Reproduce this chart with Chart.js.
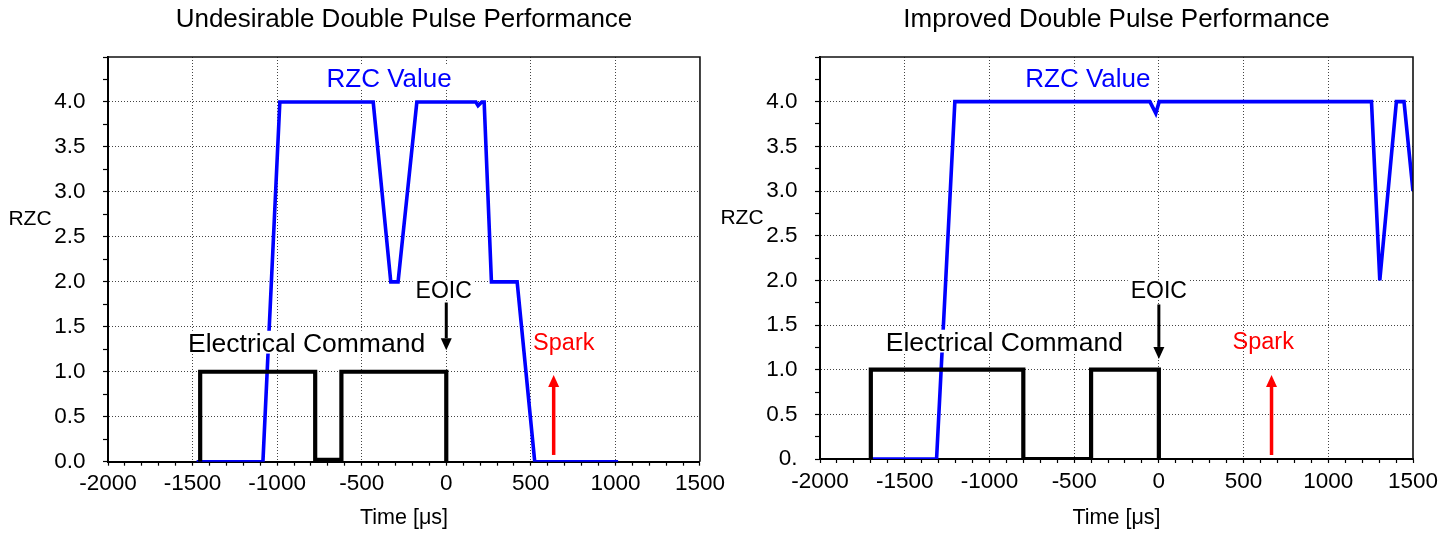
<!DOCTYPE html>
<html><head><meta charset="utf-8">
<script src="https://cdn.jsdelivr.net/npm/chart.js@4/dist/chart.umd.min.js"></script>
<style>
html,body{margin:0;padding:0;background:#fff;width:1450px;height:536px;overflow:hidden}
.wrap{position:absolute;top:0;height:536px}
#w1{left:0;width:730px}
#w2{left:700px;width:750px}
</style></head><body>
<div class="wrap" id="w1"><canvas id="c1"></canvas></div>
<div class="wrap" id="w2"><canvas id="c2"></canvas></div>
<script>
// ---------- data ----------
const xTickValues = [-2000, -1500, -1000, -500, 0, 500, 1000, 1500];
const xTickLabels = ['-2000', '-1500', '-1000', '-500', '0', '500', '1000', '1500'];
const yTickValues = [0, 0.5, 1, 1.5, 2, 2.5, 3, 3.5, 4];
const yTickLabelsLeft  = ['0.0', '0.5', '1.0', '1.5', '2.0', '2.5', '3.0', '3.5', '4.0'];
const yTickLabelsRight = ['0.',  '0.5', '1.0', '1.5', '2.0', '2.5', '3.0', '3.5', '4.0'];

const leftRzcTime  = [-1476, -1084, -984, -432, -328, -285, -174, 175, 188, 210, 224, 267, 419, 523, 1016];
const leftRzcValue = [0, 0, 4, 4, 2, 2, 4, 4, 3.96, 4, 4, 2, 2, 0, 0];
const leftCmdTime  = [-1455, -1455, -775, -775, -620, -620, 0, 0];
const leftCmdValue = [0, 1, 1, 0.02, 0.02, 1, 1, 0];

const rightRzcTime  = [-1695, -1312, -1204, -53, -18, 2, 1255, 1304, 1402, 1447, 1500];
const rightRzcValue = [0, 0, 4, 4, 3.87, 4, 4, 2, 4, 4, 3];
const rightCmdTime  = [-1700, -1700, -800, -800, -400, -400, 0, 0];
const rightCmdValue = [0, 1, 1, 0, 0, 1, 1, 0];

const titles = ['Undesirable Double Pulse Performance', 'Improved Double Pulse Performance'];
const noteText = ['RZC Value', 'Electrical Command', 'EOIC', 'Spark'];
const leftNoteX  = [-338, -826, -15, 695];
const leftNoteY  = [4.17, 1.22, 1.82, 1.24];
const rightNoteX = [-419, -912, 0, 616];
const rightNoteY = [4.16, 1.21, 1.80, 1.23];
const leftArrowX = [0, 635],  leftArrowFrom = [1.77, 0.075],  leftArrowTo = [1.24, 0.965];
const rightArrowX = [0, 665], rightArrowFrom = [1.73, 0.045], rightArrowTo = [1.12, 0.94];

// ---------- styles ----------
const FONT = '"Liberation Sans", Arial, Helvetica, sans-serif';
const noteColors = ['#0000ff', '#000000', '#000000', '#ff0000'];
const noteSizes = [26, 26.5, 23, 23.5];
const noteBox = [4, 12, 3, 0];
const arrowColors = ['#000000', '#ff0000'];
const arrowWidths = [3, 3.5];

const pts = (xs, ys) => xs.map((t, i) => ({x: t, y: ys[i]}));

const overlay = {
  id: 'overlay',
  afterDatasetsDraw(chart, args, o) {
    const {ctx, chartArea: a} = chart;
    const xs = chart.scales.x, ys = chart.scales.y;
    ctx.save();
    // frame (top/right)
    ctx.strokeStyle = '#111'; ctx.lineWidth = 1.6;
    ctx.beginPath(); ctx.moveTo(a.left, a.top); ctx.lineTo(a.right, a.top); ctx.lineTo(a.right, a.bottom); ctx.stroke();
    // notes
    o.noteX.forEach((nx, i) => {
      const size = noteSizes[i];
      ctx.font = size + 'px ' + FONT;
      const px = xs.getPixelForValue(nx), py = ys.getPixelForValue(o.noteY[i]);
      const w = ctx.measureText(noteText[i]).width;
      if (noteBox[i]) {
        ctx.fillStyle = '#fff';
        ctx.fillRect(px - w / 2 - noteBox[i], py - size * 0.8, w + 2 * noteBox[i], size * 0.86);
      }
      ctx.fillStyle = noteColors[i]; ctx.textAlign = 'center'; ctx.textBaseline = 'alphabetic';
      ctx.fillText(noteText[i], px, py);
    });
    // arrows
    o.arrowX.forEach((ax, i) => {
      const px = xs.getPixelForValue(ax), p0 = ys.getPixelForValue(o.arrowFrom[i]), p1 = ys.getPixelForValue(o.arrowTo[i]);
      const dir = Math.sign(p1 - p0), head = 12, hw = 5.5;
      ctx.strokeStyle = arrowColors[i]; ctx.fillStyle = arrowColors[i]; ctx.lineWidth = arrowWidths[i];
      ctx.beginPath(); ctx.moveTo(px, p0); ctx.lineTo(px, p1 - dir * head); ctx.stroke();
      ctx.beginPath(); ctx.moveTo(px, p1); ctx.lineTo(px - hw, p1 - dir * head); ctx.lineTo(px + hw, p1 - dir * head); ctx.closePath(); ctx.fill();
    });
    // horizontal y-axis title
    ctx.font = '21px ' + FONT; ctx.fillStyle = '#000'; ctx.textAlign = 'center'; ctx.textBaseline = 'middle';
    ctx.fillText('RZC', a.left - 78, ys.getPixelForValue(2.7));
    ctx.restore();
  }
};

function makeChart(id, title, cmdT, cmdV, rzcT, rzcV, yLabels, padRight, yWidth, xHeight, notes) {
  const isMajorX = v => xTickValues.includes(Math.round(v));
  return new Chart(document.getElementById(id), {
    type: 'scatter',
    data: {
      datasets: [
        {label: 'Electrical Command', data: pts(cmdT, cmdV), showLine: true, borderColor: '#000', borderWidth: 4.2, pointRadius: 0, fill: false, tension: 0},
        {label: 'RZC Value', data: pts(rzcT, rzcV), showLine: true, borderColor: '#0000ff', borderWidth: 3.6, pointRadius: 0, fill: false, tension: 0}
      ]
    },
    options: {
      responsive: true, maintainAspectRatio: false, animation: false,
      layout: {padding: {left: 0, right: padRight, top: 0, bottom: 0}},
      plugins: {
        legend: {display: false}, tooltip: {enabled: false},
        title: {display: true, text: title, fullSize: false, color: '#000',
                font: {family: FONT, size: 26, weight: 'normal'}, padding: {top: 4.4, bottom: 21.4}},
        overlay: notes
      },
      scales: {
        x: {
          type: 'linear', min: -2000, max: 1500,
          afterFit: s => { s.height = xHeight; },
          ticks: {stepSize: 100, autoSkip: false, maxRotation: 0, padding: 5, color: '#000',
                  font: {family: FONT, size: 22.5},
                  callback: v => { const i = xTickValues.findIndex(t => Math.abs(t - v) < 1e-6); return i >= 0 ? xTickLabels[i] : ''; }},
          grid: {color: c => { const v = c.tick ? c.tick.value : 0; return (isMajorX(v) && Math.abs(v % 500) < 1e-6 && v > -2000 && v < 1500) ? '#444' : 'rgba(0,0,0,0)'; },
                 tickColor: '#000', tickLength: 4, lineWidth: 1, tickWidth: 1.2},
          border: {display: true, color: '#000', width: 2, dash: [1, 2]},
          title: {display: true, text: 'Time [μs]', color: '#000', font: {family: FONT, size: 21.5}, padding: {top: 0, bottom: 5}}
        },
        y: {
          type: 'linear', min: 0, max: 4.5,
          afterFit: s => { s.width = yWidth; },
          ticks: {stepSize: 0.25, autoSkip: false, padding: 17.5, color: '#000',
                  font: {family: FONT, size: 22.5},
                  callback: v => { const i = yTickValues.findIndex(t => Math.abs(t - v) < 1e-6); return i >= 0 ? yLabels[i] : ''; }},
          grid: {color: c => { const v = c.tick ? c.tick.value : 0; return (Math.abs((v * 2) - Math.round(v * 2)) < 1e-6 && v > 0 && v < 4.5) ? '#444' : 'rgba(0,0,0,0)'; },
                 tickColor: '#000', tickLength: 5, lineWidth: 1, tickWidth: 1.2},
          border: {display: true, color: '#000', width: 2, dash: [1, 2]}
        }
      }
    },
    plugins: [overlay]
  });
}

makeChart('c1', titles[0], leftCmdTime, leftCmdValue, leftRzcTime, leftRzcValue, yTickLabelsLeft, 26, 108, 74.3,
  {noteX: leftNoteX, noteY: leftNoteY, arrowX: leftArrowX, arrowFrom: leftArrowFrom, arrowTo: leftArrowTo});
makeChart('c2', titles[1], rightCmdTime, rightCmdValue, rightRzcTime, rightRzcValue, yTickLabelsRight, 37, 120, 77,
  {noteX: rightNoteX, noteY: rightNoteY, arrowX: rightArrowX, arrowFrom: rightArrowFrom, arrowTo: rightArrowTo});
</script>
</body></html>
